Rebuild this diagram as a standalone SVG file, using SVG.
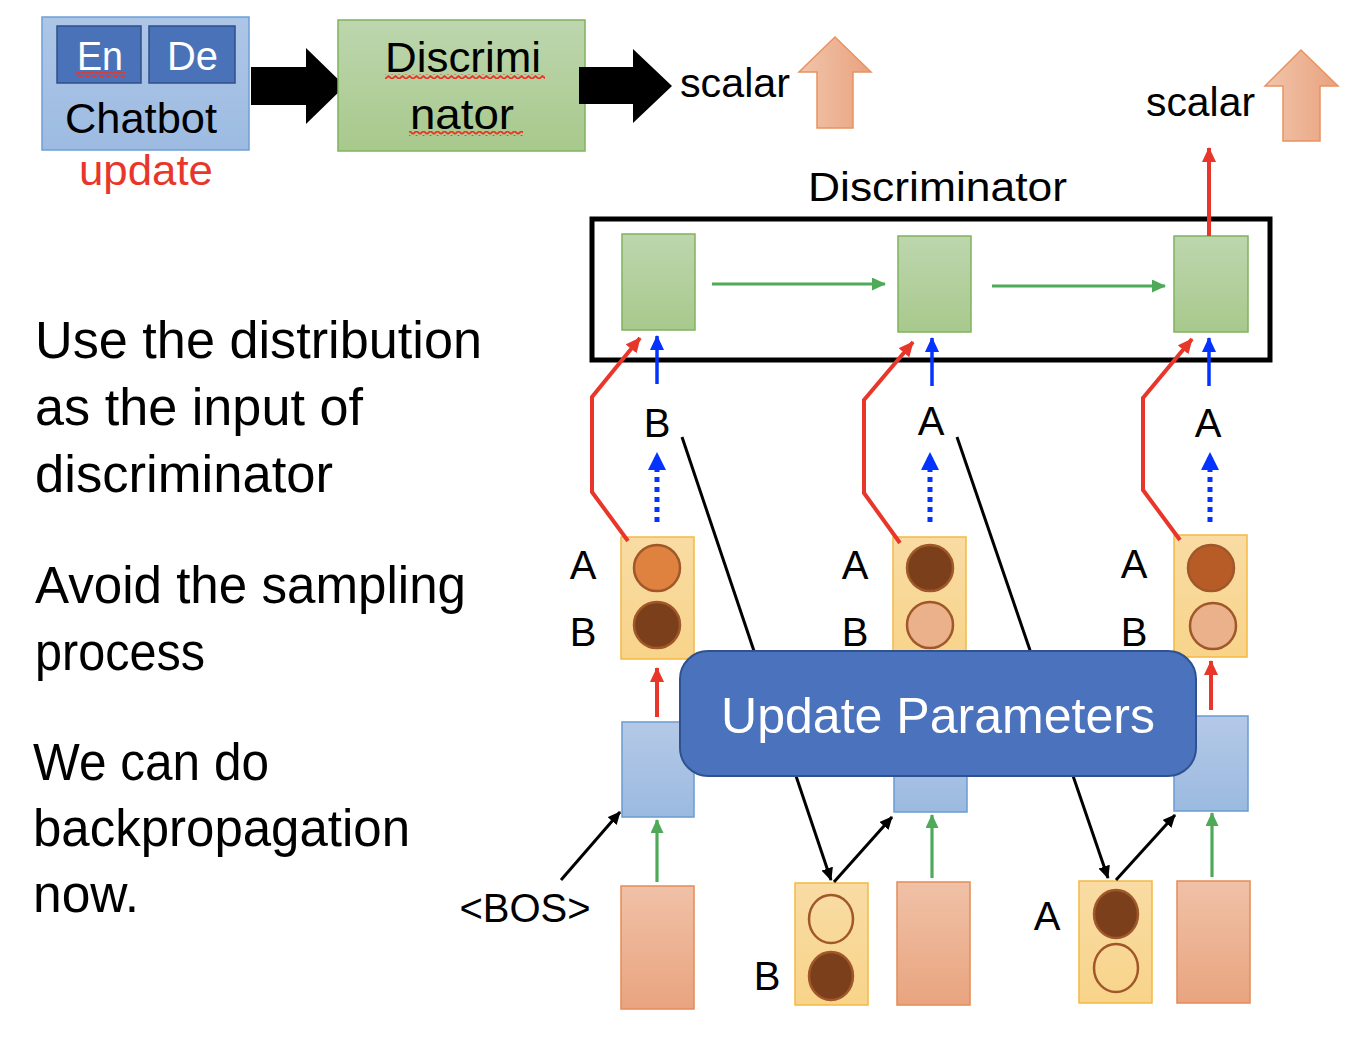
<svg xmlns="http://www.w3.org/2000/svg" width="1358" height="1038" viewBox="0 0 1358 1038">
<style>
text{font-family:"Liberation Sans",Arial,sans-serif;fill:#000}
.lbl{font-size:40px;text-anchor:middle}
.big{font-size:51px}
.wh{fill:#fff}
.red{stroke:#e8372a;stroke-width:4;fill:none}
.blue{stroke:#0433ff;stroke-width:3.5;fill:none}
.dot{stroke:#0433ff;stroke-width:5;stroke-dasharray:5 5;fill:none}
.grn{stroke:#4eaa58;stroke-width:3.2;fill:none}
.blk{stroke:#000;stroke-width:3;fill:none}
.prob{fill:url(#gProb);stroke:#f4b942;stroke-width:1.5}
.dc{fill:url(#gGreen);stroke:#7fb35e;stroke-width:1.5}
.hc{fill:url(#gBlue);stroke:#6c9bd2;stroke-width:1.5}
.ic{fill:url(#gPeach);stroke:#e48c58;stroke-width:1.5}
.cir{stroke:#a0582a;stroke-width:2.5}
</style>
<defs>
<linearGradient id="gGreen" x1="0" y1="0" x2="0" y2="1"><stop offset="0" stop-color="#bdd6ae"/><stop offset="1" stop-color="#a8c98c"/></linearGradient>
<linearGradient id="gBlue" x1="0" y1="0" x2="0" y2="1"><stop offset="0" stop-color="#b4c9e7"/><stop offset="1" stop-color="#9bbae0"/></linearGradient>
<linearGradient id="gPeach" x1="0" y1="0" x2="0" y2="1"><stop offset="0" stop-color="#f0c1a7"/><stop offset="1" stop-color="#e9a47f"/></linearGradient>
<linearGradient id="gPeachH" x1="0" y1="0" x2="1" y2="0"><stop offset="0" stop-color="#f1c5ab"/><stop offset="1" stop-color="#e9a27f"/></linearGradient>
<linearGradient id="gProb" x1="0" y1="0" x2="0" y2="1"><stop offset="0" stop-color="#f9dca4"/><stop offset="1" stop-color="#f8d48a"/></linearGradient>
<linearGradient id="gChat" x1="0" y1="0" x2="0" y2="1"><stop offset="0" stop-color="#adc6e7"/><stop offset="1" stop-color="#9dbbe1"/></linearGradient>
<pattern id="wavy" width="7" height="5" patternUnits="userSpaceOnUse"><path d="M0 4 L3.5 1 L7 4" fill="none" stroke="#e8372a" stroke-width="1.8"/></pattern>
<marker id="mRed" markerUnits="userSpaceOnUse" markerWidth="16" markerHeight="16" refX="14" refY="7" orient="auto"><path d="M0 0 L15 7 L0 14 Z" fill="#e8372a"/></marker>
<marker id="mBlue" markerUnits="userSpaceOnUse" markerWidth="16" markerHeight="16" refX="14" refY="7" orient="auto"><path d="M0 0 L15 7 L0 14 Z" fill="#0433ff"/></marker>
<marker id="mBlueBig" markerUnits="userSpaceOnUse" markerWidth="20" markerHeight="20" refX="17" refY="9" orient="auto"><path d="M0 0 L18 9 L0 18 Z" fill="#0433ff"/></marker>
<marker id="mGrn" markerUnits="userSpaceOnUse" markerWidth="15" markerHeight="15" refX="13" refY="6.5" orient="auto"><path d="M0 0 L14 6.5 L0 13 Z" fill="#4eaa58"/></marker>
<marker id="mBlk" markerUnits="userSpaceOnUse" markerWidth="14" markerHeight="14" refX="12" refY="6" orient="auto"><path d="M0 0 L13 6 L0 12 Z" fill="#000"/></marker>
</defs>
<rect width="1358" height="1038" fill="#fff"/>

<!-- top row -->
<g id="chatbot">
<rect x="42" y="17" width="207" height="133" fill="url(#gChat)" stroke="#6d9ed6" stroke-width="1.5"/>
<rect x="57" y="26" width="84" height="57" fill="#4a72b9" stroke="#2f4f8a" stroke-width="1.5"/>
<rect x="149" y="26" width="86" height="57" fill="#4a72b9" stroke="#2f4f8a" stroke-width="1.5"/>
<text x="77" y="70" font-size="41" class="wh" textLength="46" lengthAdjust="spacingAndGlyphs">En</text>
<text x="167" y="70" font-size="41" class="wh" textLength="51" lengthAdjust="spacingAndGlyphs">De</text>
<rect x="76" y="72" width="49" height="5" fill="url(#wavy)"/>
<text x="65" y="133" font-size="42" textLength="152" lengthAdjust="spacingAndGlyphs">Chatbot</text>
<text x="79" y="185" style="fill:#e8372a" font-size="43" textLength="134" lengthAdjust="spacingAndGlyphs">update</text>
</g>
<g id="arrow-big-1"><polygon points="251,67 306,67 306,48 345,86 306,124 306,105 251,105" fill="#000"/></g>
<g id="discriminator-top">
<rect x="338" y="20" width="247" height="131" fill="url(#gGreen)" stroke="#7fb35e" stroke-width="1.5"/>
<text x="385" y="72" font-size="43" textLength="156" lengthAdjust="spacingAndGlyphs">Discrimi</text>
<text x="410" y="129" font-size="43" textLength="104" lengthAdjust="spacingAndGlyphs">nator</text>
<rect x="385" y="74" width="160" height="5" fill="url(#wavy)"/>
<rect x="409" y="131" width="114" height="5" fill="url(#wavy)"/>
</g>
<g id="arrow-big-2"><polygon points="579,67 633,67 633,49 672,86 633,123 633,104 579,104" fill="#000"/></g>
<g id="scalar-1">
<text x="680" y="97" font-size="41" textLength="110" lengthAdjust="spacingAndGlyphs">scalar</text>
<polygon points="835,37 871,72 853,72 853,128 817,128 817,72 799,72" fill="url(#gPeachH)" stroke="#e8935f" stroke-width="1.5"/>
</g>
<g id="scalar-2">
<text x="1146" y="116" font-size="41" textLength="109" lengthAdjust="spacingAndGlyphs">scalar</text>
<polygon points="1301,50 1338,86 1320,86 1320,141 1283,141 1283,86 1265,86" fill="url(#gPeachH)" stroke="#e8935f" stroke-width="1.5"/>
</g>

<!-- left text -->
<g id="notes">
<text x="35" y="358" class="big" textLength="447" lengthAdjust="spacingAndGlyphs">Use the distribution</text>
<text x="35" y="425" class="big" textLength="328" lengthAdjust="spacingAndGlyphs">as the input of</text>
<text x="35" y="492" class="big" textLength="298" lengthAdjust="spacingAndGlyphs">discriminator</text>
<text x="35" y="603" class="big" textLength="431" lengthAdjust="spacingAndGlyphs">Avoid the sampling</text>
<text x="35" y="670" class="big" textLength="170" lengthAdjust="spacingAndGlyphs">process</text>
<text x="33" y="780" class="big" textLength="236" lengthAdjust="spacingAndGlyphs">We can do</text>
<text x="33" y="846" class="big" textLength="377" lengthAdjust="spacingAndGlyphs">backpropagation</text>
<text x="33" y="912" class="big" textLength="106" lengthAdjust="spacingAndGlyphs">now.</text>
</g>

<!-- discriminator -->
<g id="discriminator">
<text x="808" y="201" font-size="41" textLength="259" lengthAdjust="spacingAndGlyphs">Discriminator</text>
<rect x="592" y="219" width="678" height="141" fill="none" stroke="#000" stroke-width="5"/>
</g>
<g id="d1"><rect x="622" y="234" width="73" height="96" class="dc"/></g>
<g id="d2"><rect x="898" y="236" width="73" height="96" class="dc"/></g>
<g id="d3"><rect x="1174" y="236" width="74" height="96" class="dc"/></g>

<!-- token labels -->
<g id="tok1"><text x="657" y="437" class="lbl">B</text></g>
<g id="tok2"><text x="931" y="435" class="lbl">A</text></g>
<g id="tok3"><text x="1208" y="437" class="lbl">A</text></g>

<!-- probability boxes -->
<g id="p1">
<rect x="621" y="537" width="73" height="122" class="prob"/>
<circle cx="657" cy="568" r="23" fill="#e0823f" class="cir"/>
<circle cx="657" cy="625" r="23" fill="#7b3f1b" class="cir"/>
<text x="583" y="579" class="lbl">A</text>
<text x="583" y="646" class="lbl">B</text>
</g>
<g id="p2">
<rect x="893" y="537" width="73" height="123" class="prob"/>
<circle cx="930" cy="568" r="23" fill="#7b3f1b" class="cir"/>
<circle cx="930" cy="625" r="23" fill="#eab18a" class="cir"/>
<text x="855" y="579" class="lbl">A</text>
<text x="855" y="646" class="lbl">B</text>
</g>
<g id="p3">
<rect x="1174" y="535" width="73" height="122" class="prob"/>
<circle cx="1211" cy="568" r="23" fill="#b85c27" class="cir"/>
<circle cx="1213" cy="626" r="23" fill="#eab18a" class="cir"/>
<text x="1134" y="578" class="lbl">A</text>
<text x="1134" y="646" class="lbl">B</text>
</g>

<!-- hidden cells -->
<g id="h1"><rect x="622" y="722" width="72" height="95" class="hc"/></g>
<g id="h2"><rect x="894" y="716" width="73" height="96" class="hc"/></g>
<g id="h3"><rect x="1174" y="716" width="74" height="95" class="hc"/></g>

<!-- inputs -->
<g id="in1"><rect x="621" y="886" width="73" height="123" class="ic"/><text x="525" y="922" class="lbl">&lt;BOS&gt;</text></g>
<g id="s1">
<rect x="795" y="883" width="73" height="122" class="prob"/>
<ellipse cx="831" cy="919" rx="22" ry="24" fill="none" class="cir" stroke-width="2"/>
<ellipse cx="831" cy="976" rx="22" ry="24" fill="#7b3f1b" class="cir" stroke="#8d4a22"/>
<text x="767" y="990" class="lbl">B</text>
</g>
<g id="in2"><rect x="897" y="882" width="73" height="123" class="ic"/></g>
<g id="s2">
<rect x="1079" y="881" width="73" height="122" class="prob"/>
<ellipse cx="1116" cy="914" rx="22" ry="24" fill="#7b3f1b" class="cir" stroke="#8d4a22"/>
<ellipse cx="1116" cy="968" rx="22" ry="24" fill="none" class="cir" stroke-width="2"/>
<text x="1047" y="930" class="lbl">A</text>
</g>
<g id="in3"><rect x="1177" y="881" width="73" height="122" class="ic"/></g>

<!-- connectors -->
<g id="connectors">
<line x1="712" y1="284" x2="885" y2="284" class="grn" marker-end="url(#mGrn)"/>
<line x1="992" y1="286" x2="1165" y2="286" class="grn" marker-end="url(#mGrn)"/>
<line x1="1209" y1="236" x2="1209" y2="148" class="red" marker-end="url(#mRed)"/>

<line x1="657" y1="384" x2="657" y2="336" class="blue" marker-end="url(#mBlue)"/>
<line x1="932" y1="386" x2="932" y2="338" class="blue" marker-end="url(#mBlue)"/>
<line x1="1209" y1="386" x2="1209" y2="338" class="blue" marker-end="url(#mBlue)"/>

<polyline points="628,541 592,492 592,397 640,338" class="red" marker-end="url(#mRed)"/>
<polyline points="900,543 864,493 864,400 913,342" class="red" marker-end="url(#mRed)"/>
<polyline points="1180,540 1143,490 1143,398 1192,339" class="red" marker-end="url(#mRed)"/>

<line x1="657" y1="522" x2="657" y2="453" class="dot" marker-end="url(#mBlueBig)"/>
<line x1="930" y1="522" x2="930" y2="453" class="dot" marker-end="url(#mBlueBig)"/>
<line x1="1210" y1="522" x2="1210" y2="453" class="dot" marker-end="url(#mBlueBig)"/>

<line x1="657" y1="717" x2="657" y2="668" class="red" stroke-width="3" marker-end="url(#mRed)"/>
<line x1="1211" y1="710" x2="1211" y2="661" class="red" stroke-width="3" marker-end="url(#mRed)"/>

<line x1="657" y1="882" x2="657" y2="820" class="grn" marker-end="url(#mGrn)"/>
<line x1="932" y1="878" x2="932" y2="815" class="grn" marker-end="url(#mGrn)"/>
<line x1="1212" y1="877" x2="1212" y2="813" class="grn" marker-end="url(#mGrn)"/>

<line x1="682" y1="437" x2="831" y2="880" class="blk" marker-end="url(#mBlk)"/>
<line x1="957" y1="437" x2="1108" y2="878" class="blk" marker-end="url(#mBlk)"/>
<line x1="834" y1="882" x2="892" y2="817" class="blk" marker-end="url(#mBlk)"/>
<line x1="1116" y1="880" x2="1175" y2="815" class="blk" marker-end="url(#mBlk)"/>
<line x1="561" y1="880" x2="620" y2="812" class="blk" marker-end="url(#mBlk)"/>
</g>

<g id="update-params">
<rect x="680" y="651" width="516" height="125" rx="28" fill="#4b73bd" stroke="#2f528f" stroke-width="2"/>
<text x="938" y="733" text-anchor="middle" font-size="50" class="wh" textLength="434" lengthAdjust="spacingAndGlyphs">Update Parameters</text>
</g>
</svg>
